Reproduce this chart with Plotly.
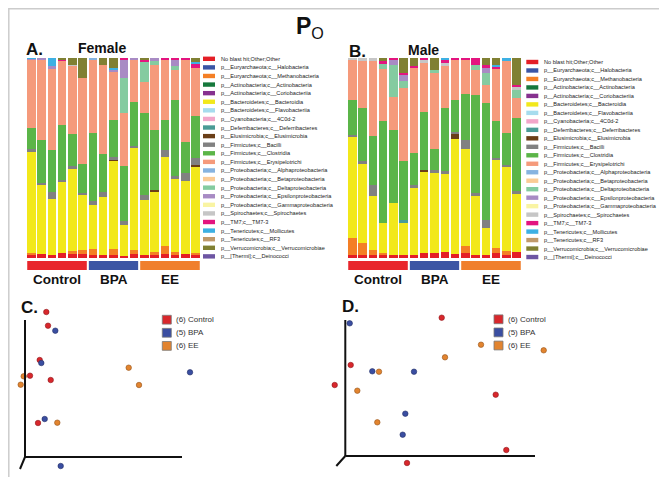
import plotly.graph_objects as go

W, H = 667, 477


def px(x):
    return x / W


def py(y):
    return 1 - y / H


# ---------------- taxa (legend order == stacking order, bottom -> top) -------------
TAXA = [
    "No blast hit;Other;Other",
    "p__Euryarchaeota;c__Halobacteria",
    "p__Euryarchaeota;c__Methanobacteria",
    "p__Actinobacteria;c__Actinobacteria",
    "p__Actinobacteria;c__Coriobacteriia",
    "p__Bacteroidetes;c__Bacteroidia",
    "p__Bacteroidetes;c__Flavobacteriia",
    "p__Cyanobacteria;c__4C0d-2",
    "p__Deferribacteres;c__Deferribacteres",
    "p__Elusimicrobia;c__Elusimicrobia",
    "p__Firmicutes;c__Bacilli",
    "p__Firmicutes;c__Clostridia",
    "p__Firmicutes;c__Erysipelotrichi",
    "p__Proteobacteria;c__Alphaproteobacteria",
    "p__Proteobacteria;c__Betaproteobacteria",
    "p__Proteobacteria;c__Deltaproteobacteria",
    "p__Proteobacteria;c__Epsilonproteobacteria",
    "p__Proteobacteria;c__Gammaproteobacteria",
    "p__Spirochaetes;c__Spirochaetes",
    "p__TM7;c__TM7-3",
    "p__Tenericutes;c__Mollicutes",
    "p__Tenericutes;c__RF3",
    "p__Verrucomicrobia;c__Verrucomicrobiae",
    "p__[Thermi];c__Deinococci",
]
TAXA_COLORS = [
    "#e41e26", "#3a55a5", "#f47f25", "#16783c", "#86318f", "#f2e81b",
    "#a6dcee", "#f2a6c9", "#4a9b96", "#6a3e17", "#818181", "#5bb548",
    "#f59a7b", "#86b3e0", "#fbcb95", "#84cba0", "#a88bc4", "#f9f4a3",
    "#c6c6c6", "#e3147f", "#3db0e3", "#c09a6b", "#808033", "#6d55a3",
]

SAMPLES = ["C1", "C2", "C3", "C4", "C5", "C6", "B1", "B2", "B3", "B4", "B5",
           "E1", "E2", "E3", "E4", "E5", "E6"]
GROUPS = ["Control", "BPA", "EE"]
GROUP_SIZES = [6, 5, 6]
GROUP_COLORS = ["#e8262c", "#3b55a4", "#f07f2d"]

# ---------------- Female relative abundance (%) -------------------------------------
F_NOBLAST = [1.7, 2, 1.4, 2.5, 2.2, 2.2, 1.7, 1.7, 1.4, 0.9, 2.2, 1.7, 1.7, 2, 1.7, 2.2, 1.7]
F_METHANO = [0.9, 0, 0, 0, 1.2, 1.7, 3, 0, 3, 0, 2, 0, 1.4, 3.9, 1.2, 0, 0.9]
F_BACTEROIDIA = [50.5, 35, 28.3, 35.4, 41.2, 27.8, 22, 28.9, 44.2, 15.8, 50.9, 27.2, 30.4, 44.7, 36.8, 36.5, 43.4]
F_ELUSIMICROBIA = [0, 0, 0, 0, 0, 0, 0, 0, 0.5, 0, 0, 0, 0.8, 0, 0, 0, 0.5]
F_BACILLI = [1.5, 0.5, 3.7, 1.2, 1.5, 0.9, 1.7, 2.5, 1.7, 1.7, 1.2, 2.5, 0, 3.7, 1.2, 3.9, 3.7]
F_CLOSTRIDIA = [10.5, 21.5, 21, 27.4, 16.3, 14.5, 34, 19, 18.3, 27.9, 21.7, 41.2, 30, 14.7, 38, 15.4, 20.9]
F_ERYSIPELOTRICHI = [34.5, 40.3, 40.5, 32.4, 34, 43, 37, 44.7, 24.4, 26.2, 21.3, 15.4, 32.2, 30.3, 15.3, 41.3, 24.2]
F_ALPHA = [0, 0, 0, 0, 0, 0, 0.7, 0, 0, 0, 0, 0, 0, 0, 0, 0, 0]
F_DELTA = [0, 0, 0, 0, 0, 0, 0, 0, 0, 17.5, 0, 10, 2, 0, 2, 0, 0]
F_EPSILON = [0.3, 0.8, 1.4, 0, 0, 0, 0, 0, 1, 9.2, 0.9, 0, 1.7, 0, 2.7, 0, 0]
F_SPIRO = [0, 0, 0, 0, 0.5, 0, 0, 0, 0, 0, 0, 0, 0, 0, 0, 0, 0]
F_TM7 = [0, 0, 0, 0.5, 0, 0, 0, 0, 0, 1, 0, 1.3, 0, 0.9, 1.2, 0.9, 2]
F_MOLLICUTES = [0.3, 0, 4.2, 0, 0, 0, 0, 0, 0.7, 0, 0, 0, 0, 0, 0, 0, 1]
F_VERRUCO = [0, 0, 0, 0.9, 3.4, 10, 0, 3.4, 5, 0, 0, 0.9, 0, 0, 0, 0, 2]

# ---------------- Male relative abundance (%) ---------------------------------------
M_NOBLAST = [1.7, 1.7, 1.7, 1.7, 1.7, 1.7, 1.7, 2.5, 2.5, 2.9, 2, 2.5, 1.7, 1.7, 2.5, 1.7, 2.9]
M_METHANO = [8.4, 5.9, 2.5, 0.9, 0, 0, 0, 0, 0, 0, 0, 3.4, 0, 0, 2.5, 1.7, 0]
M_BACTEROIDIA = [50.9, 40, 26.7, 15, 25.9, 15.9, 33.4, 40.5, 40, 39.3, 57.4, 48.5, 29.5, 13.4, 44.2, 42, 29.2]
M_DEFERRI = [0, 0, 0, 0, 0, 1.7, 0, 0, 0, 0, 0, 0, 0, 0, 0, 0, 0]
M_ELUSIMICROBIA = [0, 0, 0, 0, 0, 0, 0, 1.2, 0, 0, 3, 0, 0, 0, 0, 0, 0]
M_BACILLI = [0.9, 0.9, 5.8, 0, 0, 0, 1.7, 0, 1.7, 1.2, 0.9, 4.7, 1.4, 4.2, 0.9, 1.2, 1.4]
M_CLOSTRIDIA = [17.5, 26.7, 24.2, 50.9, 36.7, 29.2, 15.9, 28.7, 10.4, 31.7, 15.9, 23.2, 49.2, 58.4, 18.4, 16, 36.7]
M_ERYSIPELOTRICHI = [19.7, 23.4, 37.8, 26.2, 16.2, 36.7, 42.5, 24.7, 38, 21.2, 19.7, 17, 12.5, 9.2, 26.7, 35.9, 10]
M_DELTA = [0, 0, 0, 2.7, 16.2, 3.4, 0, 0, 1.7, 0, 0, 0, 2.5, 5.9, 0, 0, 4.2]
M_EPSILON = [0, 0, 0, 0, 2.7, 3.3, 0, 0, 0, 0, 0, 0, 0, 2.5, 0, 0, 0]
M_SPIRO = [1.2, 1.7, 1.4, 0, 0, 0, 0, 1.4, 0, 1.4, 0, 0, 0, 0, 0, 0, 1.7]
M_TM7 = [0, 0, 0, 1.2, 0.9, 0.9, 1.2, 1.2, 0, 1.4, 1.2, 0.9, 3.4, 1.7, 0.9, 0, 0.9]
M_MOLLICUTES = [0, 0, 0, 0, 0, 0, 0, 0, 0, 1.2, 0, 0, 0, 0, 0.8, 1.7, 0]
M_VERRUCO = [0, 0, 0, 1.7, 0, 7.5, 3.9, 0, 5.9, 0, 0, 0, 0, 3.4, 3.4, 0, 13.4]

FEMALE = {
    0: F_NOBLAST, 2: F_METHANO, 5: F_BACTEROIDIA, 9: F_ELUSIMICROBIA, 10: F_BACILLI,
    11: F_CLOSTRIDIA, 12: F_ERYSIPELOTRICHI, 13: F_ALPHA, 15: F_DELTA, 16: F_EPSILON,
    18: F_SPIRO, 19: F_TM7, 20: F_MOLLICUTES, 22: F_VERRUCO,
}
MALE = {
    0: M_NOBLAST, 2: M_METHANO, 5: M_BACTEROIDIA, 8: M_DEFERRI, 9: M_ELUSIMICROBIA,
    10: M_BACILLI, 11: M_CLOSTRIDIA, 12: M_ERYSIPELOTRICHI, 15: M_DELTA, 16: M_EPSILON,
    18: M_SPIRO, 19: M_TM7, 20: M_MOLLICUTES, 22: M_VERRUCO,
}

# ---------------- PCoA coordinates (PC1, PC2) ----------------------------------------
C_CONTROL_X = [0.213, 0.23, 0.147, 0.05, 0.257, 0.13]
C_CONTROL_Y = [1.45, 1.313, 0.97, 0.813, 0.77, 0.34]
C_BPA_X = [0.303, 0.163, 1.65, 0.197, 0.357]
C_BPA_Y = [1.263, 0.94, 0.847, 0.38, -0.09]
C_EE_X = [-0.013, -0.043, 1.037, 1.14, 0.323]
C_EE_Y = [0.807, 0.723, 0.893, 0.72, 0.343]

D_CONTROL_X = [0.964, 0.054, 1.504, 1.61, 0.617, -0.106]
D_CONTROL_Y = [1.383, 0.91, 0.613, 0.06, -0.07, 0.71]
D_BPA_X = [0.044, 0.27, 0.687, 0.6, 0.574]
D_BPA_Y = [1.327, 0.847, 0.843, 0.423, 0.213]
D_EE_X = [1.357, 1.984, 0.997, 0.337, 0.12, 0.32]
D_EE_Y = [1.113, 1.057, 0.987, 0.843, 0.653, 0.337]

PCOA_LABELS = ["(6) Control", "(5) BPA", "(6) EE"]
PT_COLORS = ["#d8272c", "#3a4ea1", "#e2842f"]
PT_EDGES = ["#8e1a1d", "#232f66", "#94531a"]

fig = go.Figure()

# ---------------- stacked bars --------------------------------------------------------
for data, xa, ya in [(FEMALE, "x", "y"), (MALE, "x2", "y2")]:
    for ti in sorted(data):
        fig.add_trace(go.Bar(
            x=SAMPLES, y=data[ti], name=TAXA[ti], marker_color=TAXA_COLORS[ti],
            marker_line_width=0, xaxis=xa, yaxis=ya, showlegend=False,
        ))

# ---------------- PCoA scatter ---------------------------------------------------------
for sets, xa, ya in [
    ([(C_CONTROL_X, C_CONTROL_Y), (C_BPA_X, C_BPA_Y), (C_EE_X, C_EE_Y)], "x3", "y3"),
    ([(D_CONTROL_X, D_CONTROL_Y), (D_BPA_X, D_BPA_Y), (D_EE_X, D_EE_Y)], "x4", "y4"),
]:
    for gi, (xs, ys) in enumerate(sets):
        fig.add_trace(go.Scatter(
            x=xs, y=ys, mode="markers", name=PCOA_LABELS[gi], showlegend=False,
            marker=dict(size=5.5, color=PT_COLORS[gi], line=dict(color=PT_EDGES[gi], width=0.6)),
            xaxis=xa, yaxis=ya,
        ))

hidden = dict(visible=False, showgrid=False, zeroline=False, fixedrange=True)
fig.update_layout(
    width=W, height=H,
    margin=dict(l=0, r=0, t=0, b=0),
    paper_bgcolor="white", plot_bgcolor="rgba(0,0,0,0)",
    barmode="stack", barnorm="percent", bargap=0.17,
    font=dict(family="Liberation Sans, Arial, sans-serif", color="#111"),
    xaxis=dict(domain=[px(18.2), px(192.8)], range=[-0.5, 16.5], **hidden),
    yaxis=dict(domain=[py(250), py(50)], range=[0, 100], **hidden),
    xaxis2=dict(domain=[px(339.2), px(513.8)], range=[-0.5, 16.5], anchor="y2", **hidden),
    yaxis2=dict(domain=[py(250), py(50)], range=[0, 100], anchor="x2", **hidden),
    xaxis3=dict(domain=[px(0), px(220)], range=[-0.17, 2.03], anchor="y3", **hidden),
    yaxis3=dict(domain=[py(470), py(300)], range=[-0.21, 1.49], anchor="x3", **hidden),
    xaxis4=dict(domain=[px(322), px(560)], range=[-0.153, 2.227], anchor="y4", **hidden),
    yaxis4=dict(domain=[py(470), py(300)], range=[-0.22, 1.48], anchor="x4", **hidden),
    showlegend=False,
)

shapes = []
annotations = []

# group bars and labels under the stacked bars
for xa in ["x", "x2"]:
    start = 0
    for gi, n in enumerate(GROUP_SIZES):
        end = start + n - 1
        shapes.append(dict(type="rect", xref=xa, yref="paper",
                           x0=start - 0.4, x1=end + 0.4, y0=py(262), y1=py(253),
                           fillcolor=GROUP_COLORS[gi], line=dict(width=0)))
        annotations.append(dict(xref=xa, yref="paper", x=(start + end) / 2, y=py(271),
                                text="<b>%s</b>" % GROUPS[gi], showarrow=False,
                                font=dict(size=13.5, color="#111"),
                                xanchor="center", yanchor="middle"))
        start = end + 1

# taxa legends
for lx, ly0, step in [(195, 50.8, 8.59), (518.3, 54.0, 8.48)]:
    for i, name in enumerate(TAXA):
        yc = ly0 + i * step
        shapes.append(dict(type="rect", xref="paper", yref="paper",
                           x0=px(lx), x1=px(lx + 12), y0=py(yc + 2.2), y1=py(yc - 2.2),
                           fillcolor=TAXA_COLORS[i], line=dict(width=0)))
        annotations.append(dict(xref="paper", yref="paper", x=px(lx + 15.5), y=py(yc),
                                text=name, showarrow=False, xanchor="left", yanchor="middle",
                                font=dict(size=5.6, color="#222")))

# PCoA axes (drawn at the origin of each ordination)
for xa, ya, xend, yend, dx, dy in [("x3", "y3", 1.57, 1.37, -0.05, -0.12),
                                   ("x4", "y4", 1.897, 1.36, -0.09, -0.10)]:
    for (x0, y0, x1, y1) in [(0, 0, 0, yend), (0, 0, xend, 0), (0, 0, dx, dy)]:
        shapes.append(dict(type="line", xref=xa, yref=ya, x0=x0, y0=y0, x1=x1, y1=y1,
                           line=dict(color="#111", width=2)))

# PCoA legends
for lx, ly0 in [(154.3, 311.7), (486, 311.3)]:
    for gi, lab in enumerate(PCOA_LABELS):
        yc = ly0 + gi * 13.1
        shapes.append(dict(type="rect", xref="paper", yref="paper",
                           x0=px(lx), x1=px(lx + 9), y0=py(yc + 4.4), y1=py(yc - 4.4),
                           fillcolor=PT_COLORS[gi], line=dict(color="#7a7a7a", width=0.8)))
        annotations.append(dict(xref="paper", yref="paper", x=px(lx + 11.5), y=py(yc),
                                text=lab, showarrow=False, xanchor="left", yanchor="middle",
                                font=dict(size=8, color="#333")))

# titles and panel letters
annotations += [
    dict(xref="paper", yref="paper", x=px(302), y=py(19), text="<b>P</b><sub>O</sub>",
         showarrow=False, font=dict(size=23, color="#111"), xanchor="center", yanchor="middle"),
    dict(xref="paper", yref="paper", x=px(16), y=py(42), text="<b>A.</b>",
         showarrow=False, font=dict(size=17), xanchor="left", yanchor="middle"),
    dict(xref="paper", yref="paper", x=px(94), y=py(40), text="<b>Female</b>",
         showarrow=False, font=dict(size=14), xanchor="center", yanchor="middle"),
    dict(xref="paper", yref="paper", x=px(339), y=py(43), text="<b>B.</b>",
         showarrow=False, font=dict(size=17), xanchor="left", yanchor="middle"),
    dict(xref="paper", yref="paper", x=px(415), y=py(42), text="<b>Male</b>",
         showarrow=False, font=dict(size=14), xanchor="center", yanchor="middle"),
    dict(xref="paper", yref="paper", x=px(11), y=py(299), text="<b>C.</b>",
         showarrow=False, font=dict(size=17), xanchor="left", yanchor="middle"),
    dict(xref="paper", yref="paper", x=px(332), y=py(298), text="<b>D.</b>",
         showarrow=False, font=dict(size=17), xanchor="left", yanchor="middle"),
]

# outer frame
shapes.append(dict(type="rect", xref="paper", yref="paper", x0=px(0.8), x1=px(666.2),
                   y0=py(476.2), y1=py(0.8), line=dict(color="#cccccc", width=1.5)))

fig.update_layout(shapes=shapes, annotations=annotations)
fig.write_html("out.html")
